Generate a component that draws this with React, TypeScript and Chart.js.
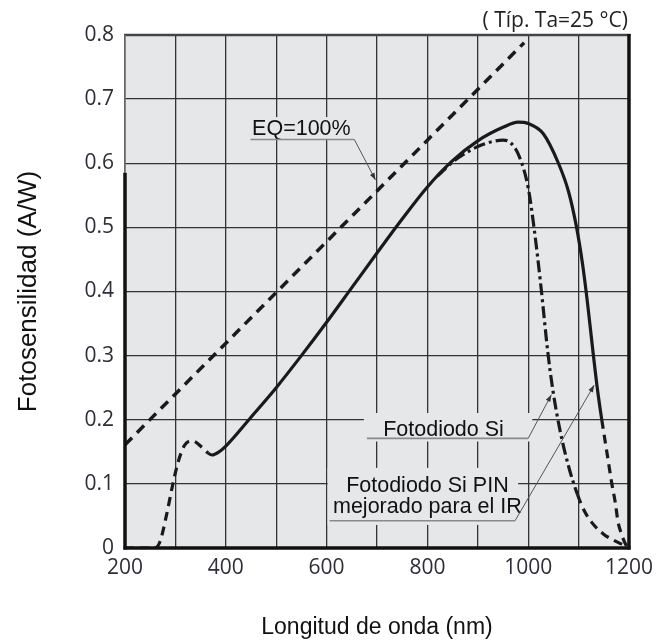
import React, { useEffect, useRef } from 'react';
import { Chart, registerables } from 'chart.js';

Chart.register(...registerables);

// ---- Data ----
const eqWavelength = [200, 992];
const eqResponse = [0.161, 0.788];

const siWavelength = [200, 230, 258, 269, 282, 295, 305, 318, 334, 354, 365, 373, 385, 400, 450, 500, 550, 600, 650, 700, 750, 800, 850, 900, 950, 980, 1000, 1030, 1060, 1080, 1096, 1108, 1118, 1128, 1137, 1146, 1153, 1160, 1166, 1173, 1178, 1185, 1192, 1197];
const siResponse = [0, 0, 0, 0.009, 0.05, 0.1, 0.133, 0.16, 0.167, 0.156, 0.148, 0.145, 0.149, 0.159, 0.204, 0.25, 0.3, 0.352, 0.406, 0.46, 0.513, 0.563, 0.604, 0.635, 0.656, 0.664, 0.662, 0.646, 0.6, 0.556, 0.5, 0.442, 0.38, 0.31, 0.25, 0.2, 0.165, 0.13, 0.1, 0.07, 0.042, 0.022, 0.008, 0];

const pinWavelength = [820, 850, 870, 900, 930, 950, 965, 982, 1000, 1012, 1025, 1039, 1049, 1063, 1082, 1098, 1110, 1126, 1149, 1170, 1188];
const pinResponse = [0.58, 0.602, 0.613, 0.626, 0.634, 0.636, 0.632, 0.611, 0.562, 0.497, 0.41, 0.305, 0.246, 0.184, 0.122, 0.083, 0.06, 0.04, 0.022, 0.012, 0.005];

const xTickLabels = [200, 400, 600, 800, 1000, 1200];
const yTickLabels = [0, 0.1, 0.2, 0.3, 0.4, 0.5, 0.6, 0.7, 0.8];

const xTitle = 'Longitud de onda (nm)';
const yTitle = 'Fotosensilidad (A/W)';
const cornerNote = '( Típ. Ta=25 °C)';

// ---- Annotation callouts (in data units) ----
const callouts = [
  {
    lines: ['EQ=100%'],
    textX: 550, textY: [0.644],
    box: [445, 661, 0.672, 0.638],
    underline: [449, 655, 0.637],
    target: [697, 0.574],
  },
  {
    lines: ['Fotodiodo Si'],
    textX: 832, textY: [0.175],
    box: [674, 1008, 0.2105, 0.166],
    underline: [680, 1000, 0.171],
    target: [1046, 0.239],
  },
  {
    lines: ['Fotodiodo Si PIN', 'mejorado para el IR'],
    textX: 800, textY: [0.088, 0.055],
    box: [602, 980, 0.125, 0.036],
    underline: [606, 974, 0.0426],
    target: [1131, 0.254],
  },
];

const toXY = (xs: number[], ys: number[]) => xs.map((x, i) => ({ x, y: ys[i] }));

const PLOT_BG = '#e6e7e9';
const LABEL_FONT = "21.5px 'Liberation Sans', Arial, sans-serif";

const decorPlugin = {
  id: 'decor',
  beforeDraw(chart: any) {
    const { ctx, chartArea: a } = chart;
    ctx.save();
    ctx.fillStyle = PLOT_BG;
    ctx.fillRect(a.left, a.top, a.right - a.left, a.bottom - a.top);
    ctx.restore();
  },
  beforeDatasetsDraw(chart: any) {
    const { ctx } = chart;
    const xs = chart.scales.x;
    const ys = chart.scales.y;
    ctx.save();
    ctx.fillStyle = PLOT_BG;
    for (const c of callouts) {
      const x0 = xs.getPixelForValue(c.box[0]);
      const x1 = xs.getPixelForValue(c.box[1]);
      const y0 = ys.getPixelForValue(c.box[2]);
      const y1 = ys.getPixelForValue(c.box[3]);
      ctx.fillRect(x0, y0, x1 - x0, y1 - y0);
    }
    ctx.restore();
  },
  afterDatasetsDraw(chart: any) {
    const { ctx, chartArea: a } = chart;
    const xs = chart.scales.x;
    const ys = chart.scales.y;
    ctx.save();
    // frame
    ctx.lineCap = 'butt';
    ctx.strokeStyle = '#444';
    ctx.lineWidth = 2.5;
    ctx.beginPath();
    ctx.moveTo(a.left - 1, a.top);
    ctx.lineTo(a.right + 1.5, a.top);
    ctx.stroke();
    ctx.strokeStyle = '#111';
    ctx.lineWidth = 3.5;
    ctx.beginPath();
    ctx.moveTo(a.right, a.top - 1);
    ctx.lineTo(a.right, a.bottom + 1.5);
    ctx.stroke();
    ctx.beginPath();
    ctx.moveTo(a.left - 1.5, a.bottom);
    ctx.lineTo(a.right + 1.5, a.bottom);
    ctx.stroke();
    const thickFrom = ys.getPixelForValue(0.585);
    ctx.beginPath();
    ctx.moveTo(a.left, thickFrom);
    ctx.lineTo(a.left, a.bottom + 1.5);
    ctx.stroke();
    ctx.strokeStyle = '#777';
    ctx.lineWidth = 1.5;
    ctx.beginPath();
    ctx.moveTo(a.left, a.top);
    ctx.lineTo(a.left, thickFrom);
    ctx.stroke();

    // callouts
    for (const c of callouts) {
      ctx.font = LABEL_FONT;
      ctx.fillStyle = '#111';
      ctx.textAlign = 'center';
      ctx.textBaseline = 'alphabetic';
      const tx = xs.getPixelForValue(c.textX);
      c.lines.forEach((line, i) => {
        ctx.fillText(line, tx, ys.getPixelForValue(c.textY[i]));
      });
      const ux0 = xs.getPixelForValue(c.underline[0]);
      const ux1 = xs.getPixelForValue(c.underline[1]);
      const uy = ys.getPixelForValue(c.underline[2]);
      ctx.strokeStyle = '#8a8a8a';
      ctx.lineWidth = 1.6;
      ctx.beginPath();
      ctx.moveTo(ux0, uy);
      ctx.lineTo(ux1, uy);
      ctx.stroke();
      const ex = xs.getPixelForValue(c.target[0]);
      const ey = ys.getPixelForValue(c.target[1]);
      ctx.strokeStyle = '#555';
      ctx.lineWidth = 1;
      ctx.beginPath();
      ctx.moveTo(ux1, uy);
      ctx.lineTo(ex, ey);
      ctx.stroke();
      const ang = Math.atan2(ey - uy, ex - ux1);
      const L = 7, W = 2.5;
      ctx.fillStyle = '#333';
      ctx.beginPath();
      ctx.moveTo(ex, ey);
      ctx.lineTo(ex - L * Math.cos(ang) + W * Math.sin(ang), ey - L * Math.sin(ang) - W * Math.cos(ang));
      ctx.lineTo(ex - L * Math.cos(ang) - W * Math.sin(ang), ey - L * Math.sin(ang) + W * Math.cos(ang));
      ctx.closePath();
      ctx.fill();
    }

    // corner note
    ctx.font = "21px 'Open Sans', sans-serif";
    ctx.fillStyle = '#222';
    ctx.textAlign = 'right';
    ctx.textBaseline = 'alphabetic';
    ctx.fillText(cornerNote, a.right - 1, 27);
    ctx.restore();
  },
};

export default function App() {
  const canvasRef = useRef<HTMLCanvasElement | null>(null);

  useEffect(() => {
    if (!canvasRef.current) return;
    const chart = new Chart(canvasRef.current, {
      type: 'line',
      data: {
        datasets: [
          {
            label: 'EQ=100%',
            data: toXY(eqWavelength, eqResponse),
            borderColor: '#1a1a1a',
            borderWidth: 3.5,
            borderDash: [10, 7],
            pointRadius: 0,
            fill: false,
          },
          {
            label: 'Fotodiodo Si',
            data: toXY(siWavelength, siResponse),
            borderColor: '#1a1a1a',
            borderWidth: 3.2,
            pointRadius: 0,
            fill: false,
            cubicInterpolationMode: 'monotone',
            segment: {
              borderDash: (ctx: any) =>
                ctx.p0.parsed.x < 360 || ctx.p0.parsed.x >= 1146 ? [9, 6] : [],
            },
          },
          {
            label: 'Fotodiodo Si PIN mejorado para el IR',
            data: toXY(pinWavelength, pinResponse),
            borderColor: '#1a1a1a',
            borderWidth: 3.2,
            pointRadius: 0,
            fill: false,
            cubicInterpolationMode: 'monotone',
            segment: {
              borderDash: (ctx: any) =>
                ctx.p0.parsed.x >= 1098 ? [9, 6] : [12, 4, 3, 4],
            },
          },
        ],
      },
      options: {
        animation: false,
        responsive: false,
        layout: { padding: { left: 0, top: 35, right: 25, bottom: 0 } },
        plugins: {
          legend: { display: false },
          tooltip: { enabled: false },
        },
        scales: {
          x: {
            type: 'linear',
            min: 200,
            max: 1200,
            afterFit: (s: any) => { s.height = 95; },
            border: { display: false },
            grid: { color: '#333', lineWidth: 1.3, drawTicks: false },
            ticks: {
              stepSize: 100,
              autoSkip: false,
              maxRotation: 0,
              padding: 7,
              color: '#2e2e38',
              font: { family: "'Open Sans', sans-serif", size: 21 },
              callback: (v: any) => (xTickLabels.includes(Number(v)) ? String(v) : ''),
            },
            title: {
              display: true,
              text: xTitle,
              color: '#111',
              font: { family: "'Liberation Sans', Arial, sans-serif", size: 23 },
              padding: { top: 0, bottom: 2 },
            },
          },
          y: {
            type: 'linear',
            min: 0,
            max: 0.8,
            afterFit: (s: any) => { s.width = 125; },
            border: { display: false },
            grid: { color: '#333', lineWidth: 1.3, drawTicks: false },
            ticks: {
              stepSize: 0.1,
              autoSkip: false,
              padding: 11,
              color: '#2e2e38',
              font: { family: "'Open Sans', sans-serif", size: 21 },
              callback: (v: any) => {
                const t = yTickLabels.find((l) => Math.abs(l - Number(v)) < 1e-6);
                return t === undefined ? '' : t === 0 ? '0' : t.toFixed(1);
              },
            },
            title: {
              display: true,
              text: yTitle,
              color: '#111',
              font: { family: "'Liberation Sans', Arial, sans-serif", size: 26 },
              padding: { top: 13, bottom: 0 },
            },
          },
        },
      },
      plugins: [decorPlugin],
    } as any);
    return () => chart.destroy();
  }, []);

  return (
    <div style={{ position: 'absolute', left: 0, top: 0, width: 660, height: 643, background: '#fff' }}>
      <canvas ref={canvasRef} width={660} height={643} />
    </div>
  );
}
